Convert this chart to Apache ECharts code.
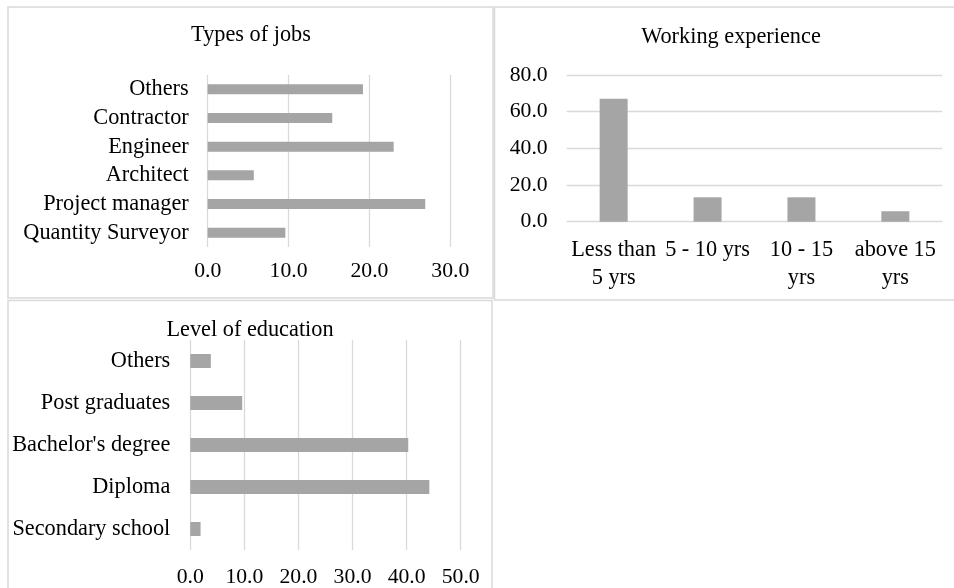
<!DOCTYPE html>
<html>
<head>
<meta charset="utf-8">
<script src="https://cdn.jsdelivr.net/npm/echarts@6/dist/echarts.min.js"></script>
<style>
html,body{margin:0;padding:0;background:#fff;}
#c{width:954px;height:588px;}
</style>
</head>
<body>
<div id="c"></div>
<script>
// Panel 1: Types of jobs (bottom to top order)
var jobCategories = ['Quantity Surveyor', 'Project manager', 'Architect', 'Engineer', 'Contractor', 'Others'];
var jobValues = [9.6, 26.9, 5.7, 23.0, 15.4, 19.2];
var jobTicks = {min: 0, max: 30, interval: 10};

// Panel 2: Working experience
var expCategories = ['Less than\n5 yrs', '5 - 10 yrs', '10 - 15\nyrs', 'above 15\nyrs'];
var expValues = [67.1, 13.3, 13.3, 5.7];
var expTicks = {min: 0, max: 80, interval: 20};

// Panel 3: Level of education (bottom to top order)
var eduCategories = ['Secondary school', 'Diploma', "Bachelor's degree", 'Post graduates', 'Others'];
var eduValues = [1.9, 44.2, 40.3, 9.6, 3.8];
var eduTicks = {min: 0, max: 50, interval: 10};

var titles = ['Types of jobs', 'Working experience', 'Level of education'];

var FONT = 'Liberation Serif';
var FS = 22.3;
var FSN = 21.7;
var TXT = '#000';
var GRID_C = '#d9d9d9';
var BAR_C = '#a5a5a5';

var chart = echarts.init(document.getElementById('c'), null, {renderer: 'canvas'});

function fmt(v){ return v.toFixed(1); }

var option = {
  backgroundColor: '#fff',
  animation: false,
  textStyle: {fontFamily: FONT},
  grid: [
    {left: 207.7, width: 242.6, top: 75, height: 172},
    {left: 566.7, width: 375.6, top: 75, height: 146.7},
    {left: 190.3, width: 270.4, top: 340, height: 210}
  ],
  xAxis: [
    {gridIndex: 0, type: 'value', min: jobTicks.min, max: jobTicks.max, interval: jobTicks.interval,
     axisLine: {show: false}, axisTick: {show: false},
     axisLabel: {formatter: fmt, color: TXT, fontFamily: FONT, fontSize: FSN, margin: 13},
     splitLine: {show: true, lineStyle: {color: GRID_C, width: 1.3}}},
    {gridIndex: 1, type: 'category', data: expCategories,
     axisLine: {show: false}, axisTick: {show: false},
     axisLabel: {color: TXT, fontFamily: FONT, fontSize: FS, margin: 14, lineHeight: 28, interval: 0}},
    {gridIndex: 2, type: 'value', min: eduTicks.min, max: eduTicks.max, interval: eduTicks.interval,
     axisLine: {show: false}, axisTick: {show: false},
     axisLabel: {formatter: fmt, color: TXT, fontFamily: FONT, fontSize: FSN, margin: 16},
     splitLine: {show: true, lineStyle: {color: GRID_C, width: 1.3}}}
  ],
  yAxis: [
    {gridIndex: 0, type: 'category', data: jobCategories,
     axisLine: {show: false}, axisTick: {show: false},
     axisLabel: {color: TXT, fontFamily: FONT, fontSize: FS, margin: 19, interval: 0}},
    {gridIndex: 1, type: 'value', min: expTicks.min, max: expTicks.max, interval: expTicks.interval,
     axisLine: {show: false}, axisTick: {show: false},
     axisLabel: {formatter: fmt, color: TXT, fontFamily: FONT, fontSize: FSN, margin: 19},
     splitLine: {show: true, lineStyle: {color: GRID_C, width: 1.3}}},
    {gridIndex: 2, type: 'category', data: eduCategories,
     axisLine: {show: false}, axisTick: {show: false},
     axisLabel: {color: TXT, fontFamily: FONT, fontSize: FS, margin: 20, interval: 0}}
  ],
  series: [
    {type: 'bar', xAxisIndex: 0, yAxisIndex: 0, data: jobValues, barWidth: 10,
     itemStyle: {color: BAR_C}},
    {type: 'bar', xAxisIndex: 1, yAxisIndex: 1, data: expValues, barWidth: 28,
     itemStyle: {color: BAR_C}},
    {type: 'bar', xAxisIndex: 2, yAxisIndex: 2, data: eduValues, barWidth: 14,
     itemStyle: {color: BAR_C}}
  ],
  graphic: [
    {type: 'rect', shape: {x: 8, y: 7, width: 485, height: 291}, style: {fill: 'none', stroke: GRID_C, lineWidth: 1.5}, silent: true},
    {type: 'rect', shape: {x: 494.5, y: 7, width: 480, height: 293}, style: {fill: 'none', stroke: GRID_C, lineWidth: 1.5}, silent: true},
    {type: 'rect', shape: {x: 8, y: 300.5, width: 484, height: 300}, style: {fill: 'none', stroke: GRID_C, lineWidth: 1.5}, silent: true},
    {type: 'text', style: {text: titles[0], x: 251, y: 35, textAlign: 'center', textVerticalAlign: 'middle', font: FS + 'px "' + FONT + '"', fill: TXT}},
    {type: 'text', style: {text: titles[1], x: 731, y: 37, textAlign: 'center', textVerticalAlign: 'middle', font: FS + 'px "' + FONT + '"', fill: TXT}},
    {type: 'text', style: {text: titles[2], x: 250, y: 330, textAlign: 'center', textVerticalAlign: 'middle', font: FS + 'px "' + FONT + '"', fill: TXT}}
  ]
};
chart.setOption(option);
</script>
</body>
</html>
